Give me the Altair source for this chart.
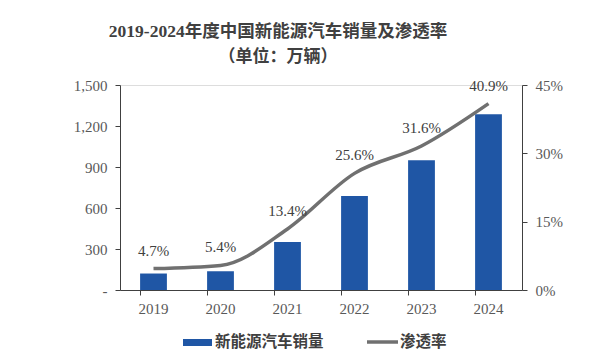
import altair as alt
import pandas as pd

years = ["2019", "2020", "2021", "2022", "2023", "2024"]
sales = [120.6, 136.7, 352.1, 688.7, 949.5, 1286.6]
rate = [4.7, 5.4, 13.4, 25.6, 31.6, 40.9]
rate_labels = ["4.7%", "5.4%", "13.4%", "25.6%", "31.6%", "40.9%"]

title_text = "2019-2024年度中国新能源汽车销量及渗透率"
subtitle_text = "（单位：万辆）"
legend_bar = "新能源汽车销量"
legend_line = "渗透率"

df = pd.DataFrame({"year": years, "sales": sales, "rate": rate, "label": rate_labels})

BLUE = "#1F56A5"
GRAY = "#707070"
TXT = "#595959"
SERIF = "Liberation Serif"
CJK = "Noto Sans CJK SC"
MIX = "Liberation Serif, Noto Sans CJK SC"

x_enc = alt.X(
    "year:N",
    title=None,
    sort=years,
    scale=alt.Scale(paddingInner=0.6, paddingOuter=0.3),
    axis=alt.Axis(
        labelAngle=0, labelFont=SERIF, labelFontSize=15, labelColor=TXT,
        labelPadding=6, tickColor="#404040", domainColor="#404040",
        bandPosition=0, tickSize=5,
    ),
)

bars = alt.Chart(df).mark_bar(color=BLUE).encode(
    x=x_enc,
    y=alt.Y(
        "sales:Q",
        title=None,
        scale=alt.Scale(domain=[0, 1500], nice=False),
        axis=alt.Axis(
            values=[0, 300, 600, 900, 1200, 1500],
            labelExpr="datum.value == 0 ? '-' : format(datum.value, ',')",
            labelFont=SERIF, labelFontSize=15, labelColor=TXT, labelPadding=8,
            grid=False, domainColor="#404040", tickColor="#404040", tickSize=5,
        ),
    ),
)

y_rate = alt.Y(
    "rate:Q",
    title=None,
    scale=alt.Scale(domain=[0, 45], nice=False),
    axis=alt.Axis(
        orient="right",
        values=[0, 15, 30, 45],
        labelExpr="datum.value + '%'",
        labelFont=SERIF, labelFontSize=15, labelColor=TXT, labelPadding=8,
        grid=False, domainColor="#404040", tickColor="#404040", tickSize=5,
    ),
)

line = alt.Chart(df).mark_line(color=GRAY, strokeWidth=3.5, interpolate="monotone").encode(
    x=alt.X("year:N", sort=years), y=y_rate
)
labels = alt.Chart(df).mark_text(
    font=SERIF, fontSize=15, color="#404040", dy=-18
).encode(x=alt.X("year:N", sort=years), y=y_rate, text="label:N")

rate_layer = alt.layer(line, labels)

one = pd.DataFrame({"a": [0]})
title1 = alt.Chart(one).mark_text(
    font=MIX, fontSize=17.5, fontWeight="bold", color="#404040"
).encode(x=alt.value(158), y=alt.value(-53), text=alt.value(title_text))
title2 = alt.Chart(one).mark_text(
    font=CJK, fontSize=17, fontWeight="bold", color="#404040"
).encode(x=alt.value(158), y=alt.value(-28), text=alt.value(subtitle_text))

leg_rect = alt.Chart(one).mark_rect(color=BLUE).encode(
    x=alt.value(63), x2=alt.value(92), y=alt.value(254), y2=alt.value(261)
)
leg_text1 = alt.Chart(one).mark_text(
    font=CJK, fontSize=15.5, fontWeight="bold", color="#404040", align="left"
).encode(x=alt.value(95), y=alt.value(257), text=alt.value(legend_bar))
leg_line = alt.Chart(one).mark_rule(color=GRAY, strokeWidth=3.5).encode(
    x=alt.value(247), x2=alt.value(278), y=alt.value(257)
)
leg_text2 = alt.Chart(one).mark_text(
    font=CJK, fontSize=15.5, fontWeight="bold", color="#404040", align="left"
).encode(x=alt.value(280), y=alt.value(257), text=alt.value(legend_line))

chart = alt.layer(
    bars, rate_layer, title1, title2, leg_rect, leg_text1, leg_line, leg_text2
).resolve_scale(y="independent").properties(
    width=402, height=205,
    autosize=alt.AutoSizeParams(type="none"),
    padding={"left": 112, "top": 77, "right": 70, "bottom": 60},
).configure_view(stroke=None).configure(background="white")

chart.save("out.html", embed_options={"renderer": "svg", "actions": False})
